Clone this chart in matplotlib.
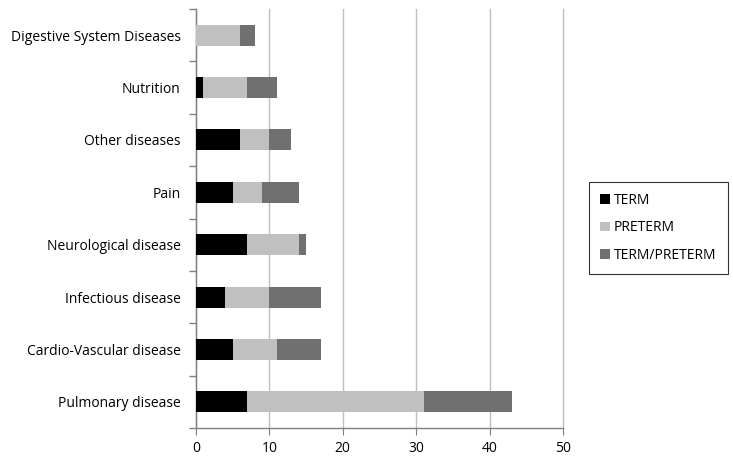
import matplotlib
matplotlib.use("Agg")
import matplotlib.pyplot as plt
import numpy as np

plt.rcParams['font.family'] = ['Open Sans', 'DejaVu Sans']

categories = ["Pulmonary disease", "Cardio-Vascular disease", "Infectious disease",
              "Neurological disease", "Pain", "Other diseases", "Nutrition",
              "Digestive System Diseases"]
term = [7, 5, 4, 7, 5, 6, 1, 0]
preterm = [24, 6, 6, 7, 4, 4, 6, 6]
term_preterm = [12, 6, 7, 1, 5, 3, 4, 2]
series_names = ["TERM", "PRETERM", "TERM/PRETERM"]
colors = ["#000000", "#c0c0c0", "#707070"]
xticks = [0, 10, 20, 30, 40, 50]

fig = plt.figure(figsize=(7.33, 4.58), dpi=100)
ax = fig.add_axes([196/733, 1-428/458, (563-196)/733, (428-9)/458])

y = np.arange(len(categories))
left = np.zeros(len(categories))
for vals, name, c in zip([term, preterm, term_preterm], series_names, colors):
    ax.barh(y, vals, left=left, height=0.4, color=c, label=name, zorder=3)
    left += np.array(vals)

ax.set_xlim(0, 50)
ax.set_ylim(-0.5, len(categories) - 0.5)
ax.set_xticks(xticks)
ax.set_yticks(y)
ax.set_yticklabels(categories)
ax.set_yticks(np.arange(-0.5, len(categories)), minor=True)
ax.tick_params(axis='y', which='major', length=0, pad=11, labelsize=10)
ax.tick_params(axis='y', which='minor', length=5, color='#808080', width=1)
ax.tick_params(axis='x', length=5, color='#808080', labelsize=10, pad=4)
ax.xaxis.grid(True, color='#bfbfbf', linewidth=1, zorder=0)
for gl in ax.get_xgridlines():
    gl.set_clip_on(False)
ax.set_axisbelow(True)
for s in ['top', 'right']:
    ax.spines[s].set_visible(False)
for s in ['left', 'bottom']:
    ax.spines[s].set_color('#808080')
    ax.spines[s].set_linewidth(1)

leg = ax.legend(loc='center left', bbox_to_anchor=((589-196)/(563-196), (428-228)/(428-9)),
                frameon=True, fancybox=False, edgecolor='#000000', fontsize=10,
                handlelength=0.7, handleheight=0.7, handletextpad=0.3,
                labelspacing=0.9, borderpad=0.8, borderaxespad=0)
leg.get_frame().set_linewidth(0.8)

fig.savefig("out.png", dpi=100)
